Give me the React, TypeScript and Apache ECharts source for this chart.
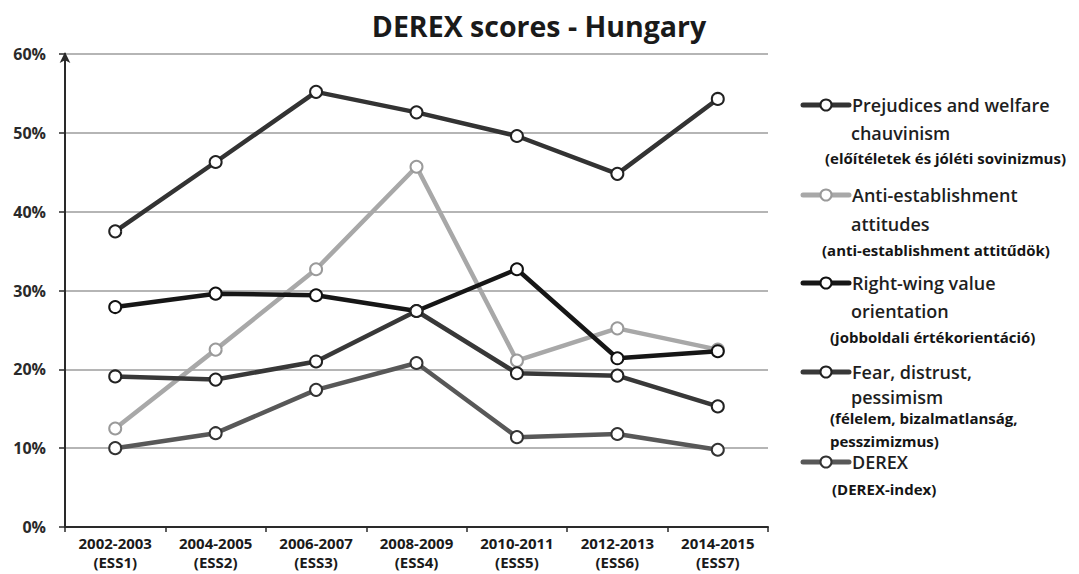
import React, { useEffect, useRef } from "react";
import * as echarts from "echarts";

const categories = [
  "2002-2003\n(ESS1)",
  "2004-2005\n(ESS2)",
  "2006-2007\n(ESS3)",
  "2008-2009\n(ESS4)",
  "2010-2011\n(ESS5)",
  "2012-2013\n(ESS6)",
  "2014-2015\n(ESS7)",
];
const yTicks = [0, 10, 20, 30, 40, 50, 60];

const prejudices = [37.5, 46.3, 55.2, 52.6, 49.6, 44.8, 54.3];
const antiEstablishment = [12.5, 22.5, 32.7, 45.7, 21.1, 25.2, 22.5];
const rightWing = [27.9, 29.6, 29.4, 27.4, 32.7, 21.4, 22.3];
const fear = [19.1, 18.7, 21.0, 27.4, 19.5, 19.2, 15.3];
const derex = [10.0, 11.9, 17.4, 20.8, 11.4, 11.8, 9.8];

const seriesNames = [
  "Prejudices and welfare chauvinism",
  "Anti-establishment attitudes",
  "Right-wing value orientation",
  "Fear, distrust, pessimism",
  "DEREX",
];
const legendMain = [
  ["Prejudices and welfare", "chauvinism"],
  ["Anti-establishment", "attitudes"],
  ["Right-wing value", "orientation"],
  ["Fear, distrust,", "pessimism"],
  ["DEREX"],
];
const legendSub = [
  ["(előítéletek és jóléti sovinizmus)"],
  ["(anti-establishment attitűdök)"],
  ["(jobboldali értékorientáció)"],
  ["(félelem, bizalmatlanság,", "pesszimizmus)"],
  ["(DEREX-index)"],
];

const colors = ["#333333", "#a8a8a8", "#161616", "#383838", "#585858"];
const borderColors = ["#222222", "#9a9a9a", "#111111", "#222222", "#333333"];
const allData = [prejudices, antiEstablishment, rightWing, fear, derex];

const FONT = "'Open Sans', 'Noto Sans', 'DejaVu Sans', sans-serif";

function buildLegend() {
  const iconY = [105, 195, 283, 372, 462];
  const line2Y = [133, 224, 311, 397];
  const subY = [[158], [250], [337], [418, 441], [489]];
  const subX = [825, 822, 830, 830, 832];
  const els: any[] = [];
  for (let i = 0; i < 5; i++) {
    const y = iconY[i];
    els.push({
      type: "line",
      shape: { x1: 803, y1: y, x2: 849, y2: y },
      style: { stroke: colors[i], lineWidth: 5, lineCap: "round" },
    });
    els.push({
      type: "circle",
      shape: { cx: 826, cy: y, r: 5.5 },
      style: { fill: "#fff", stroke: borderColors[i], lineWidth: 2 },
    });
    legendMain[i].forEach((t, j) => {
      els.push({
        type: "text",
        x: j === 0 ? 852 : 851,
        y: j === 0 ? y : line2Y[i],
        style: {
          text: t,
          fontSize: 18,
          fontFamily: FONT,
          fontWeight: 600,
          fill: "#1e1e1e",
          verticalAlign: "middle",
          align: "left",
        },
      });
    });
    legendSub[i].forEach((t, j) => {
      els.push({
        type: "text",
        x: subX[i],
        y: subY[i][j],
        style: {
          text: t,
          fontSize: 15,
          fontFamily: FONT,
          fontWeight: "bold",
          fill: "#151515",
          verticalAlign: "middle",
          align: "left",
        },
      });
    });
  }
  return els;
}

export default function App() {
  const ref = useRef<HTMLDivElement>(null);
  useEffect(() => {
    if (!ref.current) return;
    const chart = echarts.init(ref.current, undefined, { renderer: "svg" });
    chart.setOption({
      animation: false,
      backgroundColor: "#ffffff",
      title: {
        text: "DEREX scores - Hungary",
        left: 534,
        top: 6,
        textAlign: "center",
        textStyle: {
          fontFamily: FONT,
          fontWeight: "bold",
          fontSize: 28.5,
          color: "#1a1a1a",
        },
      },
      grid: { left: 65, top: 54, width: 703, height: 473, containLabel: false },
      xAxis: {
        type: "category",
        data: categories,
        boundaryGap: true,
        axisLine: { lineStyle: { color: "#2a2a2a", width: 2 } },
        axisTick: { show: true, length: 5, lineStyle: { color: "#2a2a2a", width: 1.5 } },
        axisLabel: {
          fontFamily: FONT,
          fontWeight: "bold",
          fontSize: 15,
          color: "#1a1a1a",
          lineHeight: 19,
          margin: 6,
          interval: 0,
        },
      },
      yAxis: {
        type: "value",
        min: yTicks[0],
        max: yTicks[yTicks.length - 1],
        interval: 10,
        axisLine: {
          show: true,
          symbol: ["none", "arrow"],
          symbolSize: [8, 11],
          symbolOffset: [0, 2],
          lineStyle: { color: "#2a2a2a", width: 2 },
        },
        axisTick: { show: true, length: 6, lineStyle: { color: "#2a2a2a", width: 1.5 } },
        axisLabel: {
          formatter: "{value}%",
          fontFamily: FONT,
          fontWeight: "bold",
          fontSize: 16,
          color: "#2a2a2a",
          margin: 19,
        },
        splitLine: { show: true, lineStyle: { color: "#9c9c9c", width: 1.5 } },
      },
      series: allData.map((d, i) => ({
        name: seriesNames[i],
        type: "line",
        data: d,
        symbol: "circle",
        symbolSize: 12,
        showSymbol: true,
        lineStyle: { color: colors[i], width: 4.5 },
        itemStyle: { color: "#ffffff", borderColor: borderColors[i], borderWidth: 2 },
        z: 2 + i,
      })),
      graphic: buildLegend(),
    });
    return () => chart.dispose();
  }, []);
  return (
    <div
      ref={ref}
      style={{ position: "absolute", left: 0, top: 0, width: 1079, height: 574 }}
    />
  );
}
